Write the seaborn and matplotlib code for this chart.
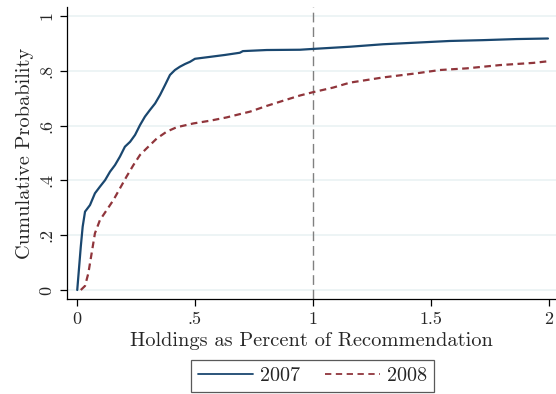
import os
import matplotlib
matplotlib.use("Agg")
import matplotlib.pyplot as plt
from matplotlib import font_manager
import seaborn as sns
import pandas as pd

# Cumulative distribution of holdings relative to recommendation
x_2007 = [0.001, 0.016, 0.024, 0.034, 0.055, 0.076, 0.097, 0.119, 0.140, 0.161,
          0.182, 0.203, 0.225, 0.246, 0.267, 0.288, 0.309, 0.331, 0.352, 0.373,
          0.394, 0.415, 0.436, 0.458, 0.479, 0.500, 0.564, 0.627, 0.690, 0.703,
          0.804, 0.945, 1.000, 1.157, 1.297, 1.439, 1.580, 1.720, 1.863, 1.996]
y_2007 = [0.000, 0.158, 0.231, 0.286, 0.310, 0.353, 0.377, 0.401, 0.432, 0.456,
          0.487, 0.523, 0.541, 0.566, 0.602, 0.633, 0.657, 0.681, 0.712, 0.748,
          0.785, 0.803, 0.815, 0.825, 0.833, 0.844, 0.851, 0.858, 0.866, 0.872,
          0.876, 0.877, 0.880, 0.888, 0.897, 0.903, 0.909, 0.912, 0.916, 0.918]

x_2008 = [0.016, 0.034, 0.048, 0.062, 0.076, 0.097, 0.126, 0.154, 0.182, 0.210,
          0.239, 0.267, 0.295, 0.338, 0.380, 0.422, 0.493, 0.564, 0.634, 0.690,
          0.733, 0.804, 0.874, 0.945, 1.000, 1.086, 1.157, 1.298, 1.439, 1.538,
          1.651, 1.792, 1.934, 1.997]
y_2008 = [0.000, 0.015, 0.061, 0.134, 0.207, 0.255, 0.292, 0.328, 0.371, 0.414,
          0.456, 0.493, 0.517, 0.553, 0.578, 0.594, 0.608, 0.618, 0.630, 0.642,
          0.651, 0.672, 0.691, 0.710, 0.722, 0.739, 0.757, 0.776, 0.791, 0.803,
          0.809, 0.821, 0.829, 0.835]

years = ["2007", "2008"]
x_ticks = [0, 0.5, 1, 1.5, 2]
x_tick_labels = ["0", ".5", "1", "1.5", "2"]
y_ticks = [0, 0.2, 0.4, 0.6, 0.8, 1]
y_tick_labels = ["0", ".2", ".4", ".6", ".8", "1"]

df = pd.concat([
    pd.DataFrame({"x": x_2007, "y": y_2007, "year": years[0]}),
    pd.DataFrame({"x": x_2008, "y": y_2008, "year": years[1]}),
], ignore_index=True)

sns.set_style("white")

# Computer Modern roman ships with matplotlib
cm_path = os.path.join(matplotlib.get_data_path(), "fonts", "ttf", "cmr10.ttf")
if os.path.exists(cm_path):
    font_manager.fontManager.addfont(cm_path)
    cm_name = font_manager.FontProperties(fname=cm_path).get_name()
else:
    cm_name = "DejaVu Serif"
plt.rcParams["font.family"] = [cm_name, "DejaVu Serif"]
plt.rcParams["axes.formatter.use_mathtext"] = True

fig = plt.figure(figsize=(5.56, 3.94), dpi=100)
ax = fig.add_axes([67 / 556, 1 - 299 / 394, (556 - 67) / 556, (299 - 7) / 394])

navy = "#1a476f"
maroon = "#90353b"

for yt in y_ticks:
    ax.axhline(yt, color="#eaf2f3", lw=1.2, zorder=0)
ax.axvline(1, color="#808080", lw=1.0, dashes=(7, 3.5), zorder=1)

sns.lineplot(data=df, x="x", y="y", hue="year", style="year",
             palette={"2007": navy, "2008": maroon},
             dashes={"2007": "", "2008": (3, 2)},
             linewidth=1.6, ax=ax, legend=False, estimator=None, sort=False)

ax.set_xlim(-0.0424, 2.03)
ax.set_ylim(-0.0328, 1.033)
ax.set_xticks(x_ticks)
ax.set_xticklabels(x_tick_labels, fontsize=13)
ax.set_yticks(y_ticks)
ax.set_yticklabels(y_tick_labels, fontsize=13, rotation=90, va="center")
ax.tick_params(axis="both", direction="out", length=5, width=0.9, color="black",
               bottom=True, left=True, pad=4)
ax.set_xlabel("Holdings as Percent of Recommendation", fontsize=14.7, labelpad=4)
ax.set_ylabel("Cumulative Probability", fontsize=14.7, labelpad=4)

for side in ["top", "right"]:
    ax.spines[side].set_visible(False)
for side in ["left", "bottom"]:
    ax.spines[side].set_color("black")
    ax.spines[side].set_linewidth(0.9)

handles = [
    plt.Line2D([], [], color=navy, lw=1.3),
    plt.Line2D([], [], color=maroon, lw=1.3, dashes=(3.5, 2.5)),
]
leg = fig.legend(handles, years, loc="lower center", ncol=2,
                 bbox_to_anchor=(312.5 / 556, 2 / 394), borderaxespad=0,
                 fontsize=14.5, frameon=True, fancybox=False,
                 handlelength=2.75, columnspacing=1.2, borderpad=0.35,
                 handletextpad=0.35)
leg.get_frame().set_edgecolor("#303030")
leg.get_frame().set_linewidth(0.9)

fig.savefig("out.png", dpi=100)
